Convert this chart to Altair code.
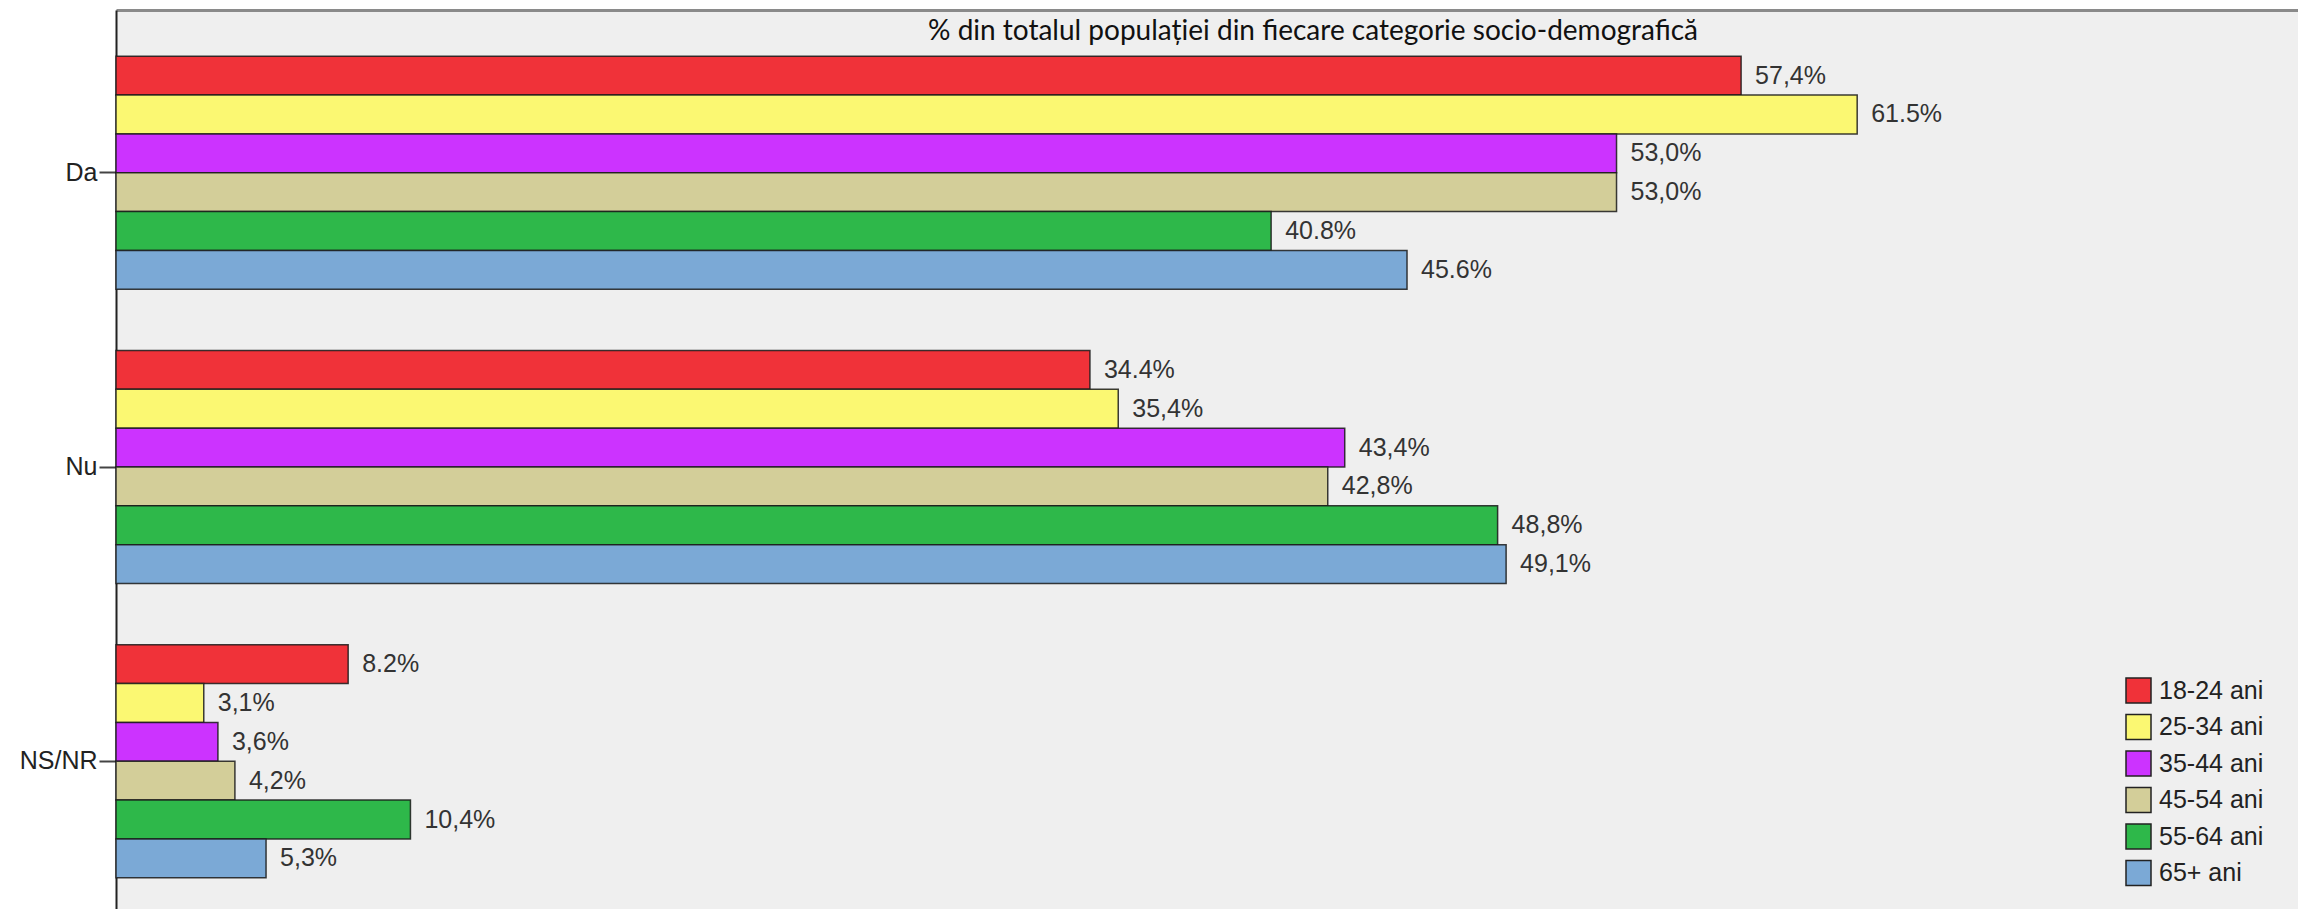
import altair as alt
import pandas as pd

answers = ["Da", "Nu", "NS/NR"]
ages = ["18-24 ani", "25-34 ani", "35-44 ani", "45-54 ani", "55-64 ani", "65+ ani"]
colors = ["#F03239", "#FBF872", "#CC33FF", "#D3CE99", "#2EB84A", "#7BA9D6"]

values_da = [57.4, 61.5, 53.0, 53.0, 40.8, 45.6]
values_nu = [34.4, 35.4, 43.4, 42.8, 48.8, 49.1]
values_ns = [8.2, 3.1, 3.6, 4.2, 10.4, 5.3]

labels_da = ["57,4%", "61.5%", "53,0%", "53,0%", "40.8%", "45.6%"]
labels_nu = ["34.4%", "35,4%", "43,4%", "42,8%", "48,8%", "49,1%"]
labels_ns = ["8.2%", "3,1%", "3,6%", "4,2%", "10,4%", "5,3%"]

title_text = "% din totalul populației din fiecare categorie socio-demografică"

rows = []
for ans, vals, labs in [("Da", values_da, labels_da), ("Nu", values_nu, labels_nu), ("NS/NR", values_ns, labels_ns)]:
    for age, v, l in zip(ages, vals, labs):
        rows.append({"answer": ans, "age": age, "value": v, "label": l})
df = pd.DataFrame(rows)

W, H = 2182, 899

x_enc = alt.X("value:Q", scale=alt.Scale(domain=[0, 77.07], nice=False, zero=True),
              axis=alt.Axis(orient="top", labels=False, ticks=False, grid=False, title=None,
                            domainColor="#8a8a8a", domainWidth=3))
y_enc = alt.Y("answer:N", sort=answers,
              scale=alt.Scale(range=[0, 914], paddingInner=0.208, paddingOuter=0.157),
              axis=alt.Axis(title=None, labelFont="Liberation Sans", labelFontSize=25,
                            labelColor="#222", labelPadding=2, tickSize=17, tickWidth=2,
                            tickColor="#444", domainColor="#222", domainWidth=2, grid=False))
yoff = alt.YOffset("age:N", sort=ages, scale=alt.Scale(paddingInner=0, paddingOuter=0))

base = alt.Chart(df)

bars = base.mark_bar(stroke="#1a1a1a", strokeWidth=1.5, strokeOpacity=0.85).encode(
    x=x_enc,
    y=y_enc,
    yOffset=yoff,
    color=alt.Color("age:N", sort=ages, scale=alt.Scale(domain=ages, range=colors),
                    legend=alt.Legend(orient="none", legendX=2009, legendY=667, title=None,
                                      symbolType="square", symbolSize=625,
                                      symbolStrokeColor="#222", symbolStrokeWidth=1.5,
                                      symbolOpacity=1,
                                      labelFontSize=25, labelFont="Liberation Sans",
                                      labelColor="#222", rowPadding=5.5, labelOffset=7,
                                      padding=0)),
)

texts = base.mark_text(align="left", baseline="middle", dx=14, fontSize=25,
                       font="Liberation Sans", color="#333").encode(
    x=alt.X("value:Q"),
    y=alt.Y("answer:N", sort=answers),
    yOffset=alt.YOffset("age:N", sort=ages),
    text="label:N",
)

title = alt.Chart(pd.DataFrame({"t": [title_text]})).mark_text(
    align="center", baseline="alphabetic", fontSize=28,
    font="Lato", color="#111"
).encode(text="t:N", x=alt.value(1197), y=alt.value(30))

chart = alt.layer(bars, texts, title).properties(
    width=W, height=H,
    autosize=alt.AutoSizeParams(type="none"),
    padding={"left": 108, "top": 2, "right": 0, "bottom": 0},
    background="white",
).configure_view(fill="#EFEFEF", stroke=None)

chart.save("out.html", embed_options={"renderer": "svg", "actions": False})
